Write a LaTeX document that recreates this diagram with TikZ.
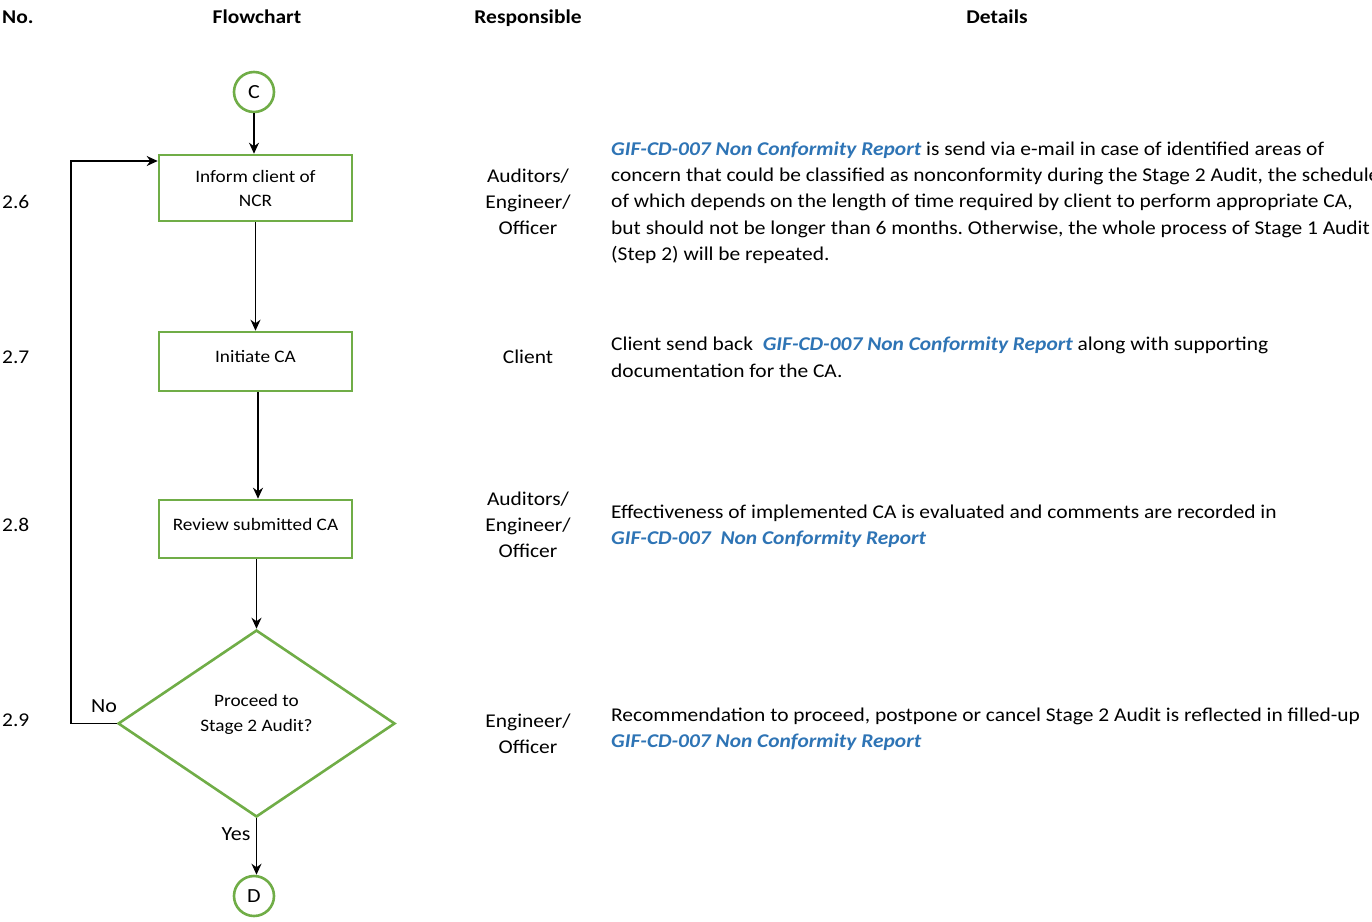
\documentclass[tikz,border=0pt]{standalone}
\usepackage{fontspec}
\setmainfont{Carlito}[FakeStretch=1.1]
\usetikzlibrary{arrows.meta,shapes.geometric}
\definecolor{gfgreen}{HTML}{70AD47}
\definecolor{gfblue}{HTML}{2E74B5}
\frenchspacing
\tikzset{
  box/.style={draw=gfgreen,line width=2.6pt,minimum width=193pt,minimum height=#1,inner sep=0pt,align=center,font=\fontsize{17.5}{24}\selectfont},
  conn/.style={draw=gfgreen,line width=2.6pt,circle,minimum size=40pt,inner sep=0pt,font=\fontsize{20}{20}\selectfont},
  hdr/.style={font=\fontsize{19.5}{22}\selectfont\bfseries,anchor=base},
  txt/.style={font=\fontsize{19.5}{26}\selectfont\frenchspacing,anchor=base},
  det/.style={txt,anchor=base west,inner sep=0pt},
  lbl/.style={font=\fontsize{20}{22}\selectfont,anchor=base},
  arr/.style={line width=1.3pt,-{Stealth[length=11pt,width=10pt]}}
}
\newcommand{\gif}[1]{{\bfseries\itshape\color{gfblue}#1}}
\begin{document}
\begin{tikzpicture}[x=1pt,y=-1pt]
\useasboundingbox (0,0) rectangle (1372,921);
% headers
\node[hdr,anchor=base west,inner sep=0pt] (hno) at (2,23) {No.};
\node[hdr] (hfc) at (257,23) {Flowchart};
\node[hdr] (hresp) at (528,23) {Responsible};
\node[hdr] (hdet) at (997,23) {Details};
% numbers
\node[txt,anchor=base west,inner sep=0pt] (n6) at (2,208.5) {2.6};
\node[txt,anchor=base west,inner sep=0pt] (n7) at (2,363.5) {2.7};
\node[txt,anchor=base west,inner sep=0pt] (n8) at (2,531.5) {2.8};
\node[txt,anchor=base west,inner sep=0pt] (n9) at (2,726.5) {2.9};
% flowchart
\node[conn] (C) at (254,92) {C};
\node[box=66pt] (b1) at (255.5,188) {\raisebox{-4pt}{\parbox{180pt}{\centering Inform client of\\NCR}}};
\node[box=59pt] (b2) at (255.5,361.5) {\raisebox{10pt}{Initiate CA}};
\node[box=58pt] (b3) at (255.5,529) {\raisebox{10pt}{Review submitted CA}};
\node[draw=gfgreen,line width=2.6pt,diamond,minimum width=277pt,minimum height=187pt,inner sep=0pt] (dm) at (256.5,723.5) {};
\node[font=\fontsize{17.5}{25}\selectfont,align=center] (dmt) at (256.5,714) {Proceed to\\Stage 2 Audit?};
\node[conn] (D) at (254,896) {D};
\draw[arr] (C) -- (C|-b1.north);
\draw[arr] (b1.south) -- (b2.north);
\draw[arr] ([xshift=2.5pt]b2.south) -- ([xshift=2.5pt]b3.north);
\draw[arr] ([xshift=1pt]b3.south) -- (dm.north);
\draw[arr] (dm.south) -- (dm.south|-D.north);
\coordinate (nl) at (71,723.5);
\coordinate (nt) at (71,161);
\draw[line width=1.3pt,-{Stealth[length=11pt,width=10pt]}] (dm.west) -- (nl) -- (nt) -- (nt-|b1.west);
\node[lbl] (no) at (104,712) {No};
\node[lbl] (yes) at (236,840) {Yes};
% responsible
\node[txt,align=center,anchor=center] (r6) at (528,201.5) {Auditors/\\Engineer/\\Officer};
\node[txt] (r7) at (528,363.5) {Client};
\node[txt,align=center,anchor=center] (r8) at (528,524.5) {Auditors/\\Engineer/\\Officer};
\node[txt,align=center,anchor=center] (r9) at (528,733.5) {Engineer/\\Officer};
% details
\node[det] (d1a) at (611,155.5) {\gif{GIF-CD-007 Non Conformity Report} is send via e-mail in case of identified areas of};
\node[det] (d1b) at (611,181.7) {concern that could be classified as nonconformity during the Stage 2 Audit, the schedule};
\node[det] (d1c) at (611,207.9) {of which depends on the length of time required by client to perform appropriate CA,};
\node[det] (d1d) at (611,234.1) {but should not be longer than 6 months. Otherwise, the whole process of Stage 1 Audit};
\node[det] (d1e) at (611,260.3) {(Step 2) will be repeated.};
\node[det] (d2a) at (611,350.5) {Client send back\ \ \gif{GIF-CD-007 Non Conformity Report} along with supporting};
\node[det] (d2b) at (611,377) {documentation for the CA.};
\node[det] (d3a) at (611,518.5) {Effectiveness of implemented CA is evaluated and comments are recorded in};
\node[det] (d3b) at (611,544.5) {\gif{GIF-CD-007\ \ Non Conformity Report}};
\node[det] (d4a) at (611,721.5) {Recommendation to proceed, postpone or cancel Stage 2 Audit is reflected in filled-up};
\node[det] (d4b) at (611,747.5) {\gif{GIF-CD-007 Non Conformity Report}};
\end{tikzpicture}
\end{document}
